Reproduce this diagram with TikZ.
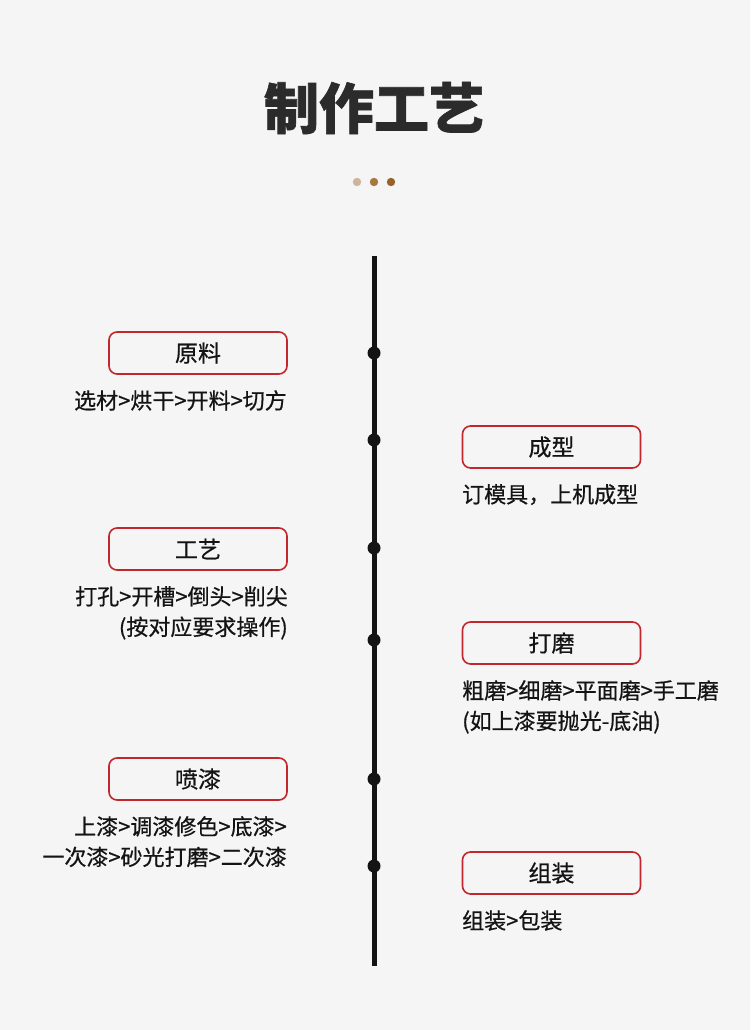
\documentclass[tikz,border=0pt]{standalone}
\usepackage{fontspec}
\newfontfamily\cjk{Noto Sans CJK SC}
\newfontfamily\cjkm{Noto Sans CJK SC}[FakeBold=0.6]
\newfontfamily\cjkh{Noto Sans CJK SC}[UprightFeatures={FakeBold=1.2},BoldFeatures={FakeBold=1.2}]
\definecolor{bg}{HTML}{F4F5F4}
\definecolor{boxred}{HTML}{C1272D}
\definecolor{ink}{HTML}{141414}
\definecolor{titleink}{HTML}{2B2B2B}
\definecolor{dotA}{HTML}{CDB49C}
\definecolor{dotB}{HTML}{A8763F}
\definecolor{dotC}{HTML}{97632A}
\begin{document}
\begin{tikzpicture}[x=1pt,y=-1pt,
  stagebox/.style={draw=boxred,line width=1.6pt,rounded corners=8pt,minimum width=178pt,minimum height=42pt,inner sep=0pt,font=\cjkm\fontsize{23}{26}\selectfont,text=ink},
  desc/.style={font=\cjkm\fontsize{22}{30.5}\selectfont,text=ink,inner sep=0pt},
  joint/.style={circle,fill=ink,inner sep=0pt,minimum size=13pt}]
\fill[bg] (0,0) rectangle (750,1030);
\useasboundingbox (0,0) rectangle (750,1030);
\node[font=\cjkh\bfseries\fontsize{55}{60}\selectfont,text=titleink] (title) at (374,108) {制作工艺};
\fill[dotA] (357,182) circle (4.2);
\fill[dotB] (374,182) circle (4.2);
\fill[dotC] (391,182) circle (4.2);
\coordinate (top) at (374,256);
\coordinate (bot) at (374,966);
\draw[ink,line width=5pt] (top) -- (bot);
\foreach \y/\n in {353/j1,440/j2,548/j3,640/j4,779/j5,866/j6}
  \node[joint] (\n) at (374,\y) {};
% left
\node[stagebox] (b1) at (198,353) {原料};
\node[desc,anchor=north east,align=right] (d1) at (287,390) {选材>烘干>开料>切方};
\node[stagebox] (b3) at (198,549) {工艺};
\node[desc,anchor=north east,align=right] (d3) at (288,586) {打孔>开槽>倒头>削尖\\(按对应要求操作)};
\node[stagebox] (b5) at (198,779) {喷漆};
\node[desc,anchor=north east,align=right] (d5) at (287,816) {上漆>调漆修色>底漆>\\一次漆>砂光打磨>二次漆};
% right
\node[stagebox] (b2) at (551.5,447) {成型};
\node[desc,anchor=north west,align=left] (d2) at (462,484) {订模具，上机成型};
\node[stagebox] (b4) at (551.5,643) {打磨};
\node[desc,anchor=north west,align=left] (d4) at (462,680) {粗磨>细磨>平面磨>手工磨\\(如上漆要抛光-底油)};
\node[stagebox] (b6) at (551.5,873) {组装};
\node[desc,anchor=north west,align=left] (d6) at (462,910) {组装>包装};
\end{tikzpicture}
\end{document}
